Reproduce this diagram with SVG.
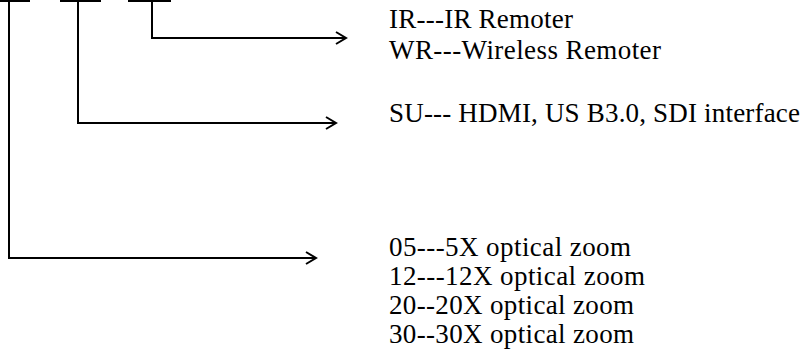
<svg xmlns="http://www.w3.org/2000/svg" width="804" height="356" viewBox="0 0 804 356">
<defs>
<style>
.ln{fill:none;stroke:#000;stroke-width:2}
.t{font-family:"Liberation Serif","Times New Roman",serif;font-size:27px;fill:#000}
</style>
<marker id="ah" markerWidth="14" markerHeight="14" refX="12" refY="7" orient="auto" markerUnits="userSpaceOnUse">
<path d="M2,1 L12,7 L2,13" fill="none" stroke="#000" stroke-width="2"/>
</marker>
</defs>
<g id="codes">
<line class="ln" x1="0" y1="1" x2="30" y2="1"/>
<line class="ln" x1="60" y1="1" x2="101" y2="1"/>
<line class="ln" x1="128" y1="1" x2="171" y2="1"/>
</g>
<g id="connectors">
<path class="ln" d="M152,1 V38 H346" marker-end="url(#ah)"/>
<path class="ln" d="M78,1 V123 H336" marker-end="url(#ah)"/>
<path class="ln" d="M9,1 V258 H316" marker-end="url(#ah)"/>
</g>
<g id="remote">
<text class="t" x="389" y="28" textLength="184" lengthAdjust="spacing">IR---IR Remoter</text>
<text class="t" x="389" y="59" textLength="272" lengthAdjust="spacing">WR---Wireless Remoter</text>
</g>
<g id="interface">
<text class="t" x="389" y="122" textLength="411" lengthAdjust="spacing">SU--- HDMI, US B3.0, SDI interface</text>
</g>
<g id="zoom">
<text class="t" x="389" y="256" textLength="242" lengthAdjust="spacing">05---5X optical zoom</text>
<text class="t" x="389" y="285" textLength="256" lengthAdjust="spacing">12---12X optical zoom</text>
<text class="t" x="389" y="314" textLength="245" lengthAdjust="spacing">20--20X optical zoom</text>
<text class="t" x="389" y="343" textLength="245" lengthAdjust="spacing">30--30X optical zoom</text>
</g>
</svg>
